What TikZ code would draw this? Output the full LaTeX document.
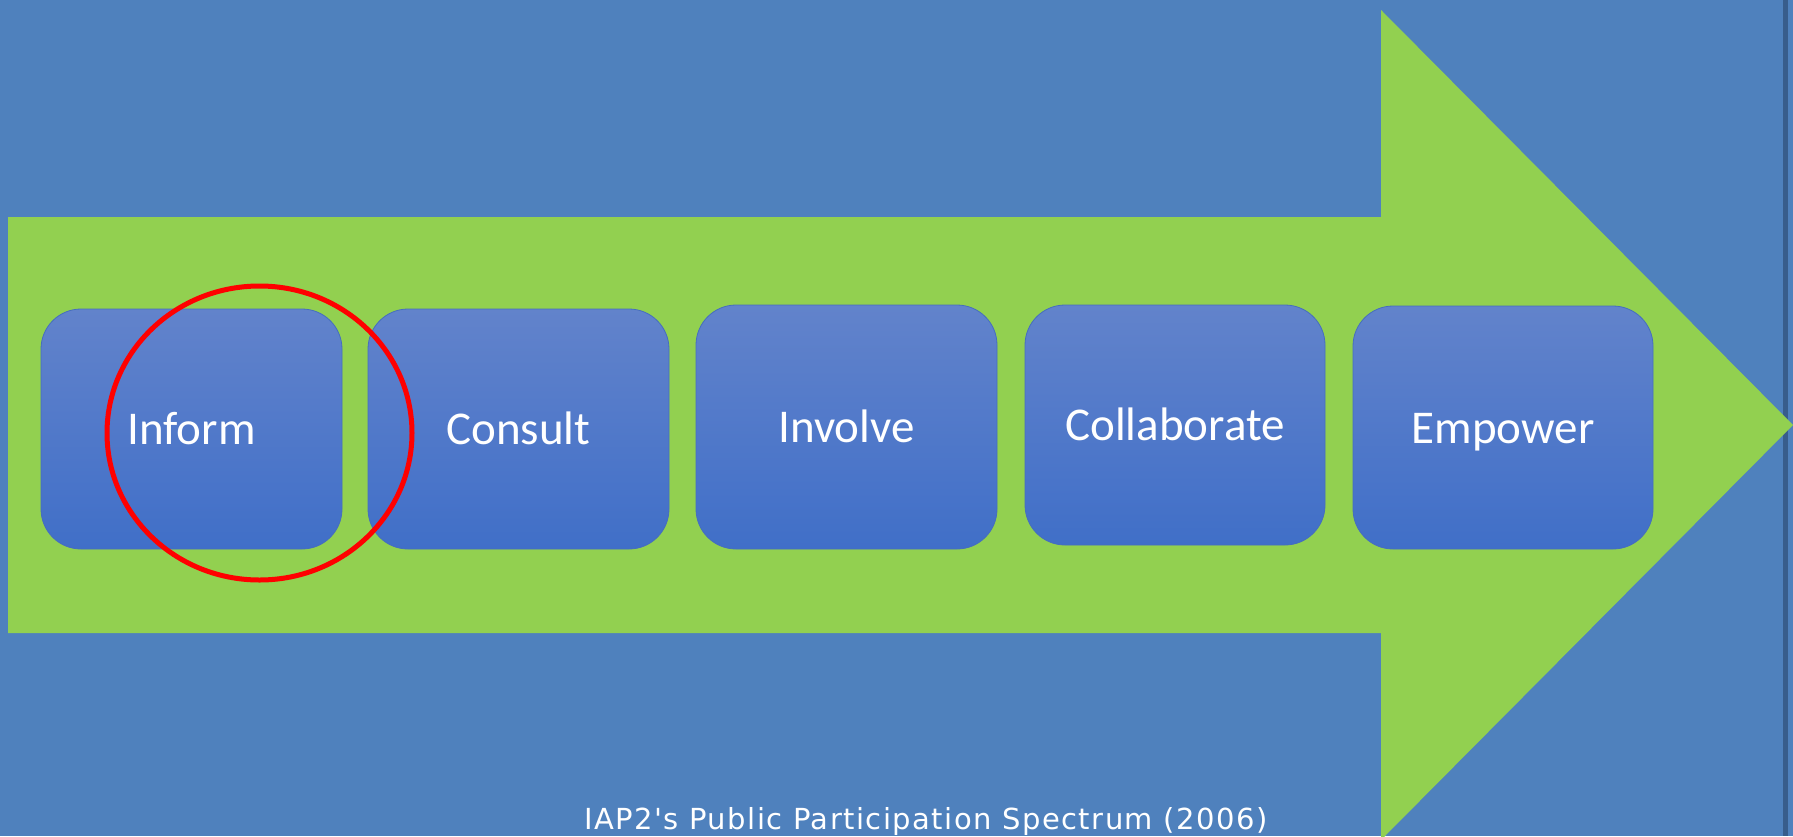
\documentclass[tikz,border=0pt]{standalone}
\usepackage{fontspec}
\newfontfamily\carlito{Carlito}
\newfontfamily\dejavu[LetterSpace=5]{DejaVu Sans}
\definecolor{bgblue}{RGB}{79,129,189}
\definecolor{stripblue}{RGB}{56,93,140}
\definecolor{arrowgreen}{RGB}{146,208,80}
\definecolor{boxtop}{RGB}{98,131,203}
\definecolor{boxbot}{RGB}{64,111,200}
\definecolor{boxline}{RGB}{70,110,190}
\begin{document}
\begin{tikzpicture}[x=1pt,y=-1pt,
  stagebox/.style={rectangle, rounded corners=40pt, top color=boxtop, bottom color=boxbot,
    draw=boxline, line width=0.8pt, inner sep=0pt, text=white,
    font=\carlito\fontsize{47}{50}\selectfont, text height=31pt, text depth=0pt},
  caption/.style={text=white, inner sep=0pt, font=\dejavu\fontsize{29}{32}\selectfont}]
\useasboundingbox (0,0) rectangle (1793,836);
\clip (0,0) rectangle (1793,836);
% background
\fill[bgblue] (0,0) rectangle (1793,836);
\fill[stripblue] (1783,0) rectangle (1788,836);
% big arrow
\fill[arrowgreen] (8,217) -- (1381,217) -- (1381,10) -- (1793,425) -- (1381,840) -- (1381,633) -- (8,633) -- cycle;
% stage boxes
\node[stagebox, minimum width=301pt, minimum height=240pt] (inform) at (191.5,429) {Inform};
\node[stagebox, minimum width=301pt, minimum height=240pt] (consult) at (518.5,429) {Consult};
\node[stagebox, minimum width=301pt, minimum height=244pt] (involve) at (846.5,427) {Involve};
\node[stagebox, minimum width=300pt, minimum height=240pt] (collab) at (1175,425) {Collaborate};
\node[stagebox, minimum width=300pt, minimum height=243pt] (empower) at (1503,427.5) {Empower};
% highlight circle
\draw[red, line width=5pt] (259.5,433) ellipse [x radius=152.5pt, y radius=147pt];
% caption
\node[caption, anchor=base west] (cap) at (584,829) {IAP2's Public Participation Spectrum (2006)};
\end{tikzpicture}
\end{document}
